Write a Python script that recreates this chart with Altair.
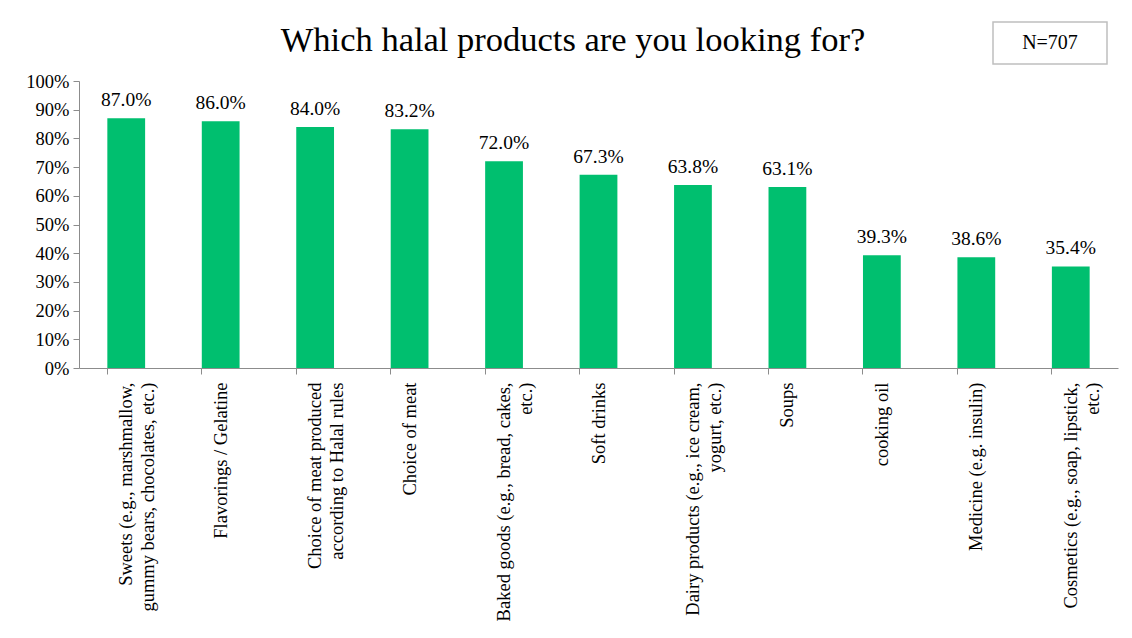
import altair as alt
import pandas as pd

categories = [
    "Sweets (e.g., marshmallow,|gummy bears, chocolates, etc.)",
    "Flavorings / Gelatine",
    "Choice of meat produced|according to Halal rules",
    "Choice of meat",
    "Baked goods (e.g., bread, cakes,|etc.)",
    "Soft drinks",
    "Dairy products (e.g., ice cream,|yogurt, etc.)",
    "Soups",
    "cooking oil",
    "Medicine (e.g. insulin)",
    "Cosmetics (e.g., soap, lipstick,|etc.)",
]
values = [0.870, 0.860, 0.840, 0.832, 0.720, 0.673, 0.638, 0.631, 0.393, 0.386, 0.354]
y_ticks = [0.0, 0.1, 0.2, 0.3, 0.4, 0.5, 0.6, 0.7, 0.8, 0.9, 1.0]

title_text = "Which halal products are you looking for?"
n_text = "N=707"

df = pd.DataFrame({"cat": categories, "val": values})

FONT = "Liberation Serif"
W, H = 1039, 287

x = alt.X("cat:N", sort=categories,
          scale=alt.Scale(paddingInner=0.6, paddingOuter=0.3),
          axis=alt.Axis(title=None, labelAngle=-90, labelFont=FONT, labelFontSize=18.5,
                        labelColor="black", labelLineHeight=22, labelPadding=8,
                        labelExpr="split(datum.label, '|')", labelLimit=400,
                        domainColor="#8c8c8c", tickColor="#8c8c8c", tickSize=6,
                        bandPosition=0, labelBound=False, labelOverlap=False))
y = alt.Y("val:Q", scale=alt.Scale(domain=[0, 1]),
          axis=alt.Axis(title=None, format=".0%", values=y_ticks, tickCount=20,
                        labelFont=FONT, labelFontSize=18.5, labelColor="black",
                        domainColor="#8c8c8c", tickColor="#8c8c8c", tickSize=6,
                        grid=False, labelPadding=4, labelOverlap=False))

bars = alt.Chart(df).mark_bar(color="#00BF6F").encode(x=x, y=y)
labels = alt.Chart(df).mark_text(font=FONT, fontSize=19.5, baseline="bottom", dy=-8,
                                 color="black").encode(
    x=x, y=y, text=alt.Text("val:Q", format=".1%"))

nbox = alt.Chart(pd.DataFrame({"t": [n_text]})).mark_rect(
    fill="white", stroke="#bfbfbf", strokeWidth=1.5).encode(
    x=alt.value(914), x2=alt.value(1028), y=alt.value(-59), y2=alt.value(-17))
ntext = alt.Chart(pd.DataFrame({"t": [n_text]})).mark_text(
    font=FONT, fontSize=20, color="black").encode(
    x=alt.value(971), y=alt.value(-38), text="t:N")
ttext = alt.Chart(pd.DataFrame({"t": [title_text]})).mark_text(
    font=FONT, fontSize=34.5, color="black").encode(
    x=alt.value(494), y=alt.value(-40), text="t:N")
frame_l = alt.Chart(pd.DataFrame({"t": [0]})).mark_rule(color="#8c8c8c", strokeWidth=2).encode(
    x=alt.value(-73), y=alt.value(-79), y2=alt.value(560))
frame_t = alt.Chart(pd.DataFrame({"t": [0]})).mark_rule(color="#8c8c8c", strokeWidth=2).encode(
    x=alt.value(-73), x2=alt.value(1050), y=alt.value(-79))

chart = alt.layer(bars, labels, nbox, ntext, ttext, frame_l, frame_t).properties(
    width=W, height=H,
    autosize=alt.AutoSizeParams(type="none"),
    padding={"left": 71, "top": 73, "right": 5, "bottom": 262},
).configure(background="white").configure_view(strokeWidth=0)

chart.save("out.html", embed_options={"renderer": "svg", "actions": False})
